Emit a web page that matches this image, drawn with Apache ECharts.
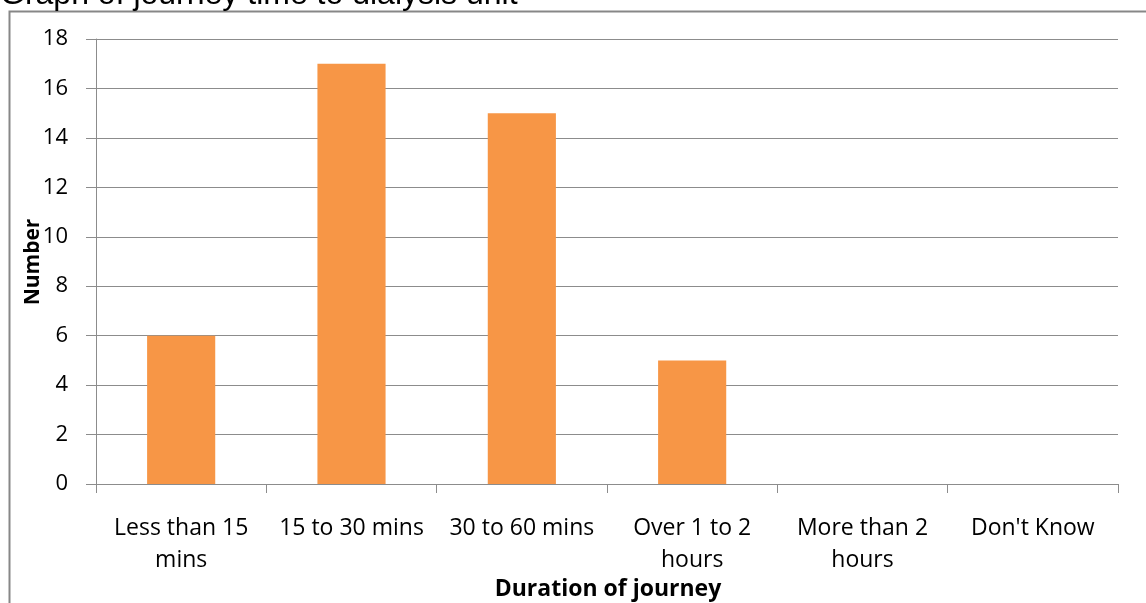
<!DOCTYPE html>
<html>
<head>
<meta charset="utf-8">
<script src="https://cdn.jsdelivr.net/npm/echarts@6/dist/echarts.min.js"></script>
<style>
  html, body { margin: 0; padding: 0; background: #fff; }
  #chart { width: 1146px; height: 603px; }
</style>
</head>
<body>
<div id="chart"></div>
<script>
// Journey time to the dialysis unit, by duration band
const categories = ['Less than 15\nmins', '15 to 30 mins', '30 to 60 mins', 'Over 1 to 2\nhours', 'More than 2\nhours', "Don't Know"];
const counts = [6, 17, 15, 5, 0, 0];
const yTicks = { min: 0, max: 18, interval: 2 };

const titleText = 'Graph of journey time to dialysis unit';
const xAxisTitle = 'Duration of journey';
const yAxisTitle = 'Number';

const labelFont = '"Open Sans", "Noto Sans", sans-serif';
const axisGrey = '#8c8c8c';

const chart = echarts.init(document.getElementById('chart'), null, { renderer: 'canvas' });

chart.setOption({
  backgroundColor: '#ffffff',
  animation: false,
  graphic: [
    {
      type: 'rect',
      shape: { x: 9.5, y: 11.5, width: 1200, height: 700 },
      style: { fill: 'none', stroke: '#878787', lineWidth: 2 },
      silent: true,
      z: 0
    },
    {
      type: 'text',
      left: 0,
      top: -21,
      style: {
        text: titleText,
        font: '32px "Liberation Sans", Arial, sans-serif',
        fill: '#000'
      }
    },
    {
      type: 'text',
      x: 608,
      y: 589,
      style: {
        text: xAxisTitle,
        font: 'bold 23px ' + labelFont,
        fill: '#000',
        align: 'center',
        verticalAlign: 'middle'
      }
    },
    {
      type: 'text',
      x: 33,
      y: 262,
      rotation: Math.PI / 2,
      style: {
        text: yAxisTitle,
        font: 'bold 21px ' + labelFont,
        fill: '#000',
        align: 'center',
        verticalAlign: 'middle'
      }
    }
  ],
  grid: { left: 96, right: 28, top: 39, bottom: 119, containLabel: false },
  xAxis: {
    type: 'category',
    data: categories,
    axisLine: { lineStyle: { color: axisGrey, width: 1 } },
    axisTick: { show: true, alignWithLabel: false, length: 9, lineStyle: { color: axisGrey } },
    axisLabel: {
      interval: 0,
      margin: 28,
      color: '#000',
      fontSize: 23,
      fontFamily: labelFont,
      lineHeight: 32
    }
  },
  yAxis: {
    type: 'value',
    min: yTicks.min,
    max: yTicks.max,
    interval: yTicks.interval,
    axisLine: { show: true, lineStyle: { color: axisGrey } },
    axisTick: { show: true, length: 10, lineStyle: { color: axisGrey } },
    splitLine: { lineStyle: { color: axisGrey, width: 1 } },
    axisLabel: {
      margin: 28,
      color: '#000',
      fontSize: 22,
      fontFamily: labelFont
    }
  },
  series: [
    {
      type: 'bar',
      data: counts,
      barWidth: '40%',
      itemStyle: { color: '#F79646' }
    }
  ]
});
</script>
</body>
</html>
